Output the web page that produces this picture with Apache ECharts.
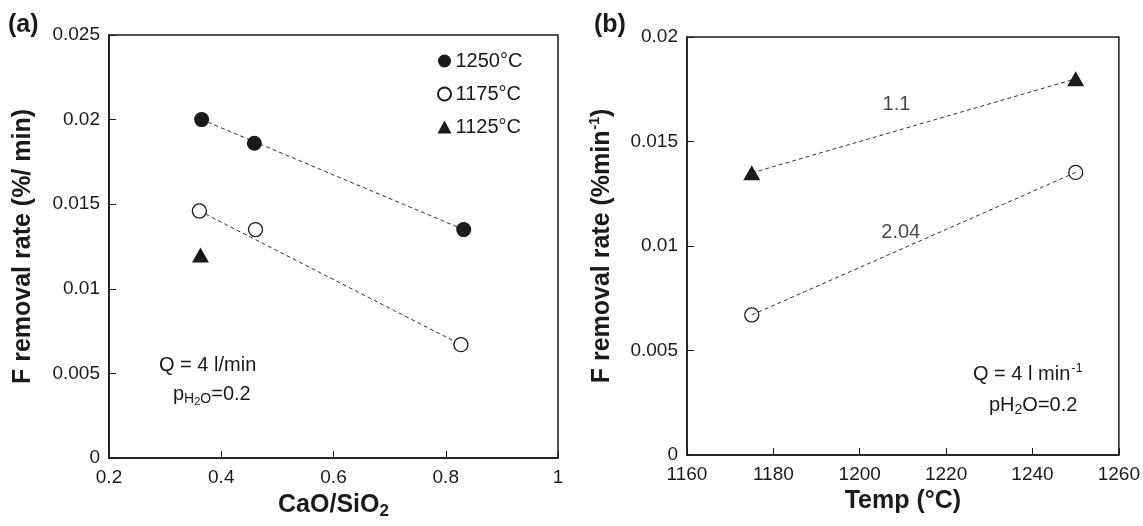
<!DOCTYPE html>
<html>
<head>
<meta charset="utf-8">
<script src="https://cdn.jsdelivr.net/npm/echarts@6/dist/echarts.min.js"></script>
<style>
html,body{margin:0;padding:0;background:#fff;}
#c{width:1143px;height:526px;}
</style>
</head>
<body>
<div id="c"></div>
<script>
// ---- Panel (a): F removal rate vs CaO/SiO2 ----
const aX1250 = [0.365, 0.459, 0.832];
const aY1250 = [0.0200, 0.0186, 0.0135];
const aX1175 = [0.361, 0.461, 0.827];
const aY1175 = [0.0146, 0.0135, 0.0067];
const aX1125 = [0.363];
const aY1125 = [0.0120];
const legendNames = ['1250°C', '1175°C', '1125°C'];
const aXTicks = {min: 0.2, max: 1, interval: 0.2};
const aYTicks = {min: 0, max: 0.025, interval: 0.005};

// ---- Panel (b): F removal rate vs temperature ----
const bTemp = [1175, 1250];
const bYTri = [0.0135, 0.0180];
const bYCirc = [0.0067, 0.01352];
const bSlopeLabels = ['1.1', '2.04'];
const bSlopeLabelPos = [[1208.5, 0.01675], [1209.5, 0.01065]];
const bXTicks = {min: 1160, max: 1260, interval: 20};
const bYTicks = {min: 0, max: 0.02, interval: 0.005};

const pairs = (xs, ys) => xs.map((x, i) => [x, ys[i]]);
const ends = (xs, ys) => [[xs[0], ys[0]], [xs[xs.length - 1], ys[ys.length - 1]]];

const INK = '#1a1a1a';
const FONT = 'Liberation Sans, Arial, Helvetica, sans-serif';
const plain = v => String(v);

function xAxisCfg(idx, t, name, rich) {
  return {
    type: 'value', gridIndex: idx, min: t.min, max: t.max, interval: t.interval,
    name: name, nameLocation: 'middle', nameGap: 33,
    nameTextStyle: {fontFamily: FONT, fontSize: 25, fontWeight: 'bold', color: INK, rich: rich},
    axisLine: {lineStyle: {color: INK, width: 1.5}},
    axisTick: {inside: true, length: 7, lineStyle: {color: INK, width: 1}},
    axisLabel: {fontFamily: FONT, fontSize: 19, color: INK, margin: 10, formatter: plain},
    splitLine: {show: false}
  };
}
function yAxisCfg(idx, t, name, rich) {
  return {
    type: 'value', gridIndex: idx, min: t.min, max: t.max, interval: t.interval,
    name: name, nameLocation: 'middle', nameGap: 73,
    nameTextStyle: {fontFamily: FONT, fontSize: 25, fontWeight: 'bold', color: INK, rich: rich},
    axisLine: {lineStyle: {color: INK, width: 1.5}},
    axisTick: {inside: true, length: 7, lineStyle: {color: INK, width: 1}},
    axisLabel: {fontFamily: FONT, fontSize: 19, color: INK, margin: 9, formatter: plain},
    splitLine: {show: false}
  };
}

const dashLine = (xi, yi, data) => ({
  type: 'line', xAxisIndex: xi, yAxisIndex: yi, data: data, symbol: 'none', silent: true,
  lineStyle: {color: '#333', width: 1, type: [4, 3]}, z: 1
});

const subRich = {
  b: {fontFamily: FONT, fontSize: 25, fontWeight: 'bold', color: INK},
  sub: {fontFamily: FONT, fontSize: 17, fontWeight: 'bold', color: INK, padding: [12, 0, 0, 0]},
  sup: {fontFamily: FONT, fontSize: 14, fontWeight: 'bold', color: INK, padding: [0, 0, 14, 1]}
};

const filled = {color: INK, opacity: 1};
const hollowWhite = {color: '#ffffff', borderColor: INK, borderWidth: 1.3, opacity: 1};
const hollowClear = {color: 'rgba(255,255,255,0)', borderColor: INK, borderWidth: 1.3, opacity: 1};

const option = {
  backgroundColor: '#fff',
  animation: false,
  grid: [
    {left: 109, top: 35, width: 449, height: 423, show: true, borderColor: INK, borderWidth: 1.5, backgroundColor: 'transparent'},
    {left: 687, top: 37, width: 434, height: 418, show: true, borderColor: INK, borderWidth: 1.5, backgroundColor: 'transparent'}
  ],
  xAxis: [
    xAxisCfg(0, aXTicks, '{b|CaO/SiO}{sub|2}', subRich),
    xAxisCfg(1, bXTicks, 'Temp (°C)', subRich)
  ],
  yAxis: [
    yAxisCfg(0, aYTicks, 'F removal rate (%/ min)', subRich),
    Object.assign(yAxisCfg(1, bYTicks, '{b|F removal rate (%min}{sup|-1}{b|)}', subRich), {nameGap: 71})
  ],
  legend: {
    data: legendNames.map(n => ({name: n})),
    orient: 'vertical', left: 432, top: 46,
    itemWidth: 14, itemHeight: 13, itemGap: 13,
    textStyle: {fontFamily: FONT, fontSize: 20, color: INK, padding: [0, 0, 0, -1]},
    selectedMode: false
  },
  series: [
    dashLine(0, 0, ends(aX1250, aY1250)),
    dashLine(0, 0, ends(aX1175, aY1175)),
    {name: legendNames[0], type: 'scatter', xAxisIndex: 0, yAxisIndex: 0, data: pairs(aX1250, aY1250),
      symbol: 'circle', symbolSize: 15, itemStyle: filled, z: 3},
    {name: legendNames[1], type: 'scatter', xAxisIndex: 0, yAxisIndex: 0, data: pairs(aX1175, aY1175),
      symbol: 'circle', symbolSize: 14, itemStyle: hollowWhite, z: 3},
    {name: legendNames[2], type: 'scatter', xAxisIndex: 0, yAxisIndex: 0, data: pairs(aX1125, aY1125),
      symbol: 'triangle', symbolSize: [17, 15], itemStyle: filled, z: 3},

    dashLine(1, 1, pairs(bTemp, bYTri)),
    dashLine(1, 1, pairs(bTemp, bYCirc)),
    {name: 'b-triangle', type: 'scatter', xAxisIndex: 1, yAxisIndex: 1, data: pairs(bTemp, bYTri),
      symbol: 'triangle', symbolSize: [17, 15], itemStyle: filled, z: 3},
    {name: 'b-circle', type: 'scatter', xAxisIndex: 1, yAxisIndex: 1, data: pairs(bTemp, bYCirc),
      symbol: 'circle', symbolSize: 14, itemStyle: hollowClear, z: 3},
    {name: 'b-slopes', type: 'scatter', xAxisIndex: 1, yAxisIndex: 1, silent: true,
      data: bSlopeLabelPos.map((p, i) => ({value: p, label: {formatter: bSlopeLabels[i]}})),
      symbolSize: 0,
      label: {show: true, position: 'inside', fontFamily: FONT, fontSize: 20, color: INK}, z: 4}
  ],
  graphic: [
    {type: 'text', left: 8, top: 13, style: {text: '(a)', font: 'bold 25px ' + FONT, fill: INK}},
    {type: 'text', left: 594, top: 13, style: {text: '(b)', font: 'bold 25px ' + FONT, fill: INK}},
    {type: 'text', left: 159, top: 355, style: {text: 'Q = 4 l/min', font: '20px ' + FONT, fill: INK}},
    {type: 'text', left: 173, top: 384, style: {
      text: '{n|p}{s|H}{ss|2}{s|O}{n|=0.2}',
      rich: {
        n: {font: '20px ' + FONT, fill: INK},
        s: {font: '14px ' + FONT, fill: INK, padding: [10, 0, 0, 0]},
        ss: {font: '11px ' + FONT, fill: INK, padding: [16, 0, 0, 0]}
      }
    }},
    {type: 'text', left: 973, top: 362, style: {
      text: '{n|Q = 4 l min}{sup|-1}',
      rich: {
        n: {font: '20px ' + FONT, fill: INK},
        sup: {font: '13px ' + FONT, fill: INK, padding: [0, 0, 12, 1]}
      }
    }},
    {type: 'text', left: 989, top: 395, style: {
      text: '{n|pH}{sub|2}{n|O=0.2}',
      rich: {
        n: {font: '20px ' + FONT, fill: INK},
        sub: {font: '14px ' + FONT, fill: INK, padding: [10, 0, 0, 0]}
      }
    }}
  ]
};

const chart = echarts.init(document.getElementById('c'), null, {renderer: 'canvas'});
chart.setOption(option);
</script>
</body>
</html>
